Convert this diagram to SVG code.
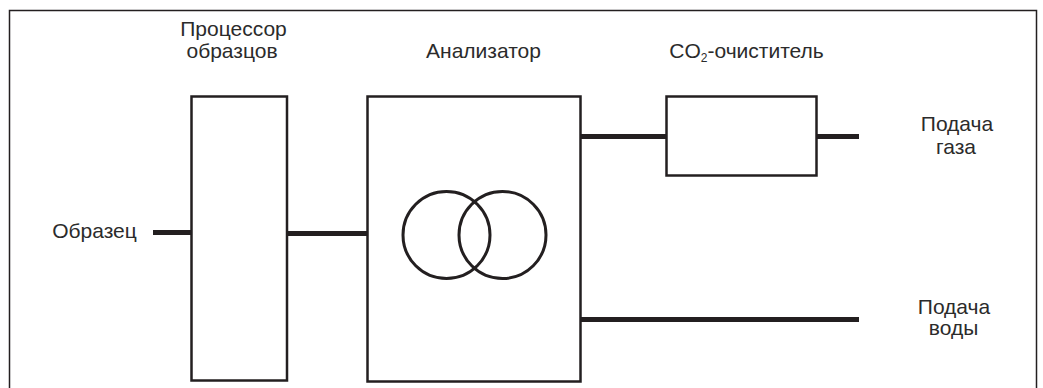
<svg xmlns="http://www.w3.org/2000/svg" width="1043" height="388" viewBox="0 0 1043 388">
  <style>
    .frame { fill: none; stroke: #231f20; stroke-width: 1.5; }
    .box { fill: #ffffff; stroke: #231f20; stroke-width: 2.5; }
    .ring { fill: none; stroke: #231f20; stroke-width: 3; }
    .pipe { fill: none; stroke: #231f20; stroke-width: 5; }
    .label { font-family: "Liberation Sans", Arial, sans-serif; font-size: 21px; fill: #2b2b2b; text-anchor: middle; }
  </style>
  <rect width="1043" height="388" fill="#ffffff"/>
  <rect class="frame" x="9.5" y="10.5" width="1027" height="400"/>

  <g id="connectors">
    <line class="pipe" x1="153" y1="232.5" x2="192" y2="232.5"/>
    <line class="pipe" x1="287" y1="233.5" x2="368" y2="233.5"/>
    <line class="pipe" x1="580" y1="136.5" x2="667" y2="136.5"/>
    <line class="pipe" x1="816" y1="136.5" x2="859" y2="136.5"/>
    <line class="pipe" x1="580" y1="319.5" x2="859" y2="319.5"/>
  </g>

  <g id="sample">
    <text class="label" x="94.5" y="237.5">Образец</text>
  </g>

  <g id="processor">
    <rect class="box" x="191.5" y="96.5" width="95.5" height="284"/>
    <text class="label" x="233.5" y="36">Процессор</text>
    <text class="label" x="232" y="57.5">образцов</text>
  </g>

  <g id="analyzer">
    <rect class="box" x="367.5" y="96.5" width="213" height="285"/>
    <circle class="ring" cx="446.5" cy="235" r="43.5"/>
    <circle class="ring" cx="502.5" cy="235" r="43.5"/>
    <text class="label" x="483.5" y="57.5">Анализатор</text>
  </g>

  <g id="co2-scrubber">
    <rect class="box" x="666.5" y="96.5" width="150" height="79"/>
    <text class="label" x="746.5" y="57.5">CO<tspan font-size="12" dy="4">2</tspan><tspan dy="-4">-очиститель</tspan></text>
  </g>

  <g id="gas-supply">
    <text class="label" x="957" y="131">Подача</text>
    <text class="label" x="956" y="153.5">газа</text>
  </g>

  <g id="water-supply">
    <text class="label" x="954" y="313.5">Подача</text>
    <text class="label" x="953.5" y="335">воды</text>
  </g>
</svg>
